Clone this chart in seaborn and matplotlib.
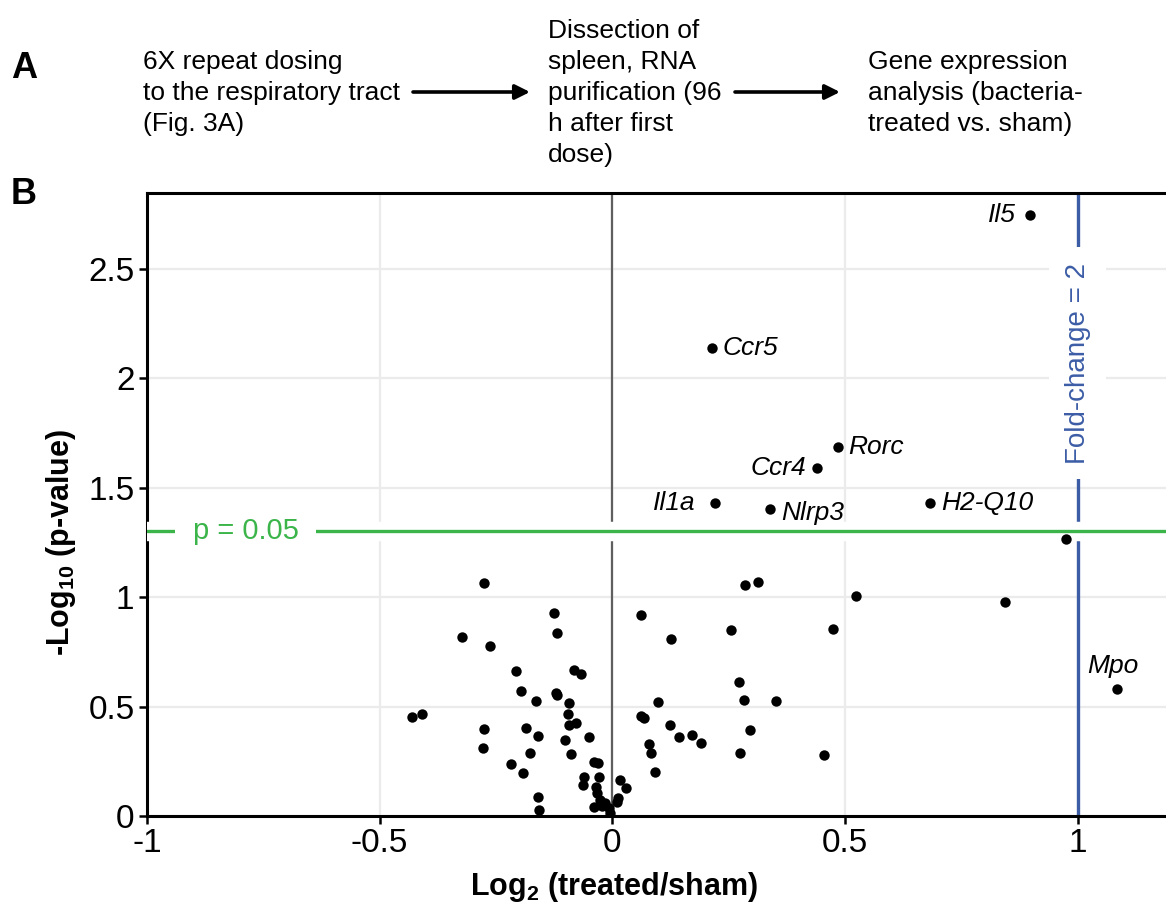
"""
Volcano plot of spleen gene expression after repeat dosing (panel A workflow + panel B volcano).
"""
import matplotlib
matplotlib.use('Agg')
import matplotlib.pyplot as plt
import matplotlib.patheffects as pe
import pandas as pd
import seaborn as sns

# labelled genes
GENES = ['Il5', 'Ccr5', 'Rorc', 'Ccr4', 'Il1a', 'Nlrp3', 'H2-Q10', 'Mpo']
GENE_LOG2FC = [0.897, 0.214, 0.484, 0.441, 0.221, 0.339, 0.683, 1.084]
GENE_NLOGP = [2.747, 2.139, 1.686, 1.590, 1.430, 1.403, 1.430, 0.579]

# unlabelled genes
OTHER_LOG2FC = [
    -0.275, -0.125, -0.118, -0.322, -0.262, -0.208, -0.083, -0.067, -0.197,
    -0.121, -0.119, -0.165, -0.094, -0.430, -0.410, -0.096, -0.079, -0.092,
    -0.275, -0.185, -0.159, -0.050, -0.101, -0.277, -0.177, -0.089, -0.217,
    -0.192, -0.040, -0.031, -0.160, -0.157, -0.061, -0.064, -0.029, -0.036,
    -0.033, -0.040, -0.026, -0.015, -0.008, -0.004, -0.022,
    0.061, 0.127, 0.099, 0.061, 0.069, 0.123, 0.016, 0.029, 0.012, 0.011,
    0.285, 0.314, 0.256, 0.272, 0.284, 0.351, 0.296, 0.143, 0.171, 0.191,
    0.079, 0.083, 0.274, 0.091, 0.524, 0.475, 0.455, 0.976, 0.843,
]
OTHER_NLOGP = [
    1.063, 0.926, 0.838, 0.818, 0.777, 0.664, 0.665, 0.650, 0.571,
    0.564, 0.552, 0.526, 0.518, 0.454, 0.468, 0.468, 0.425, 0.416,
    0.399, 0.402, 0.366, 0.362, 0.348, 0.313, 0.290, 0.283, 0.236,
    0.196, 0.248, 0.243, 0.087, 0.027, 0.177, 0.140, 0.178, 0.134,
    0.104, 0.043, 0.073, 0.058, 0.035, 0.012, 0.045,
    0.919, 0.811, 0.522, 0.459, 0.446, 0.418, 0.165, 0.126, 0.084, 0.062,
    1.056, 1.071, 0.850, 0.611, 0.528, 0.526, 0.393, 0.360, 0.370, 0.334,
    0.327, 0.286, 0.290, 0.203, 1.005, 0.853, 0.277, 1.264, 0.979,
]

P_CUTOFF = 1.301        # -log10(0.05)
FC_CUTOFF = 1.0         # log2(2)
X_TICKS = [-1, -0.5, 0, 0.5, 1]
Y_TICKS = [0, 0.5, 1, 1.5, 2, 2.5]

WORKFLOW = [
    '6X repeat dosing\nto the respiratory tract\n(Fig. 3A)',
    'Dissection of\nspleen, RNA\npurification (96\nh after first\ndose)',
    'Gene expression\nanalysis (bacteria-\ntreated vs. sham)',
]

# label placement (offset in points, alignment)
LABEL_POS = {
    'Il5': (-10, 0, 'right'),
    'Ccr5': (8, 0, 'left'),
    'Rorc': (8, 0, 'left'),
    'Ccr4': (-8, 0, 'right'),
    'Il1a': (-14, 0, 'right'),
    'Nlrp3': (8, -3, 'left'),
    'H2-Q10': (8, 0, 'left'),
    'Mpo': (-3, 17, 'center'),
}

GREEN = '#3bb54a'
BLUE = '#3c5da6'

sns.set_theme(style='white')
plt.rcParams['font.family'] = ['Liberation Sans', 'DejaVu Sans']
plt.rcParams['mathtext.fontset'] = 'custom'
plt.rcParams['mathtext.rm'] = 'Liberation Sans'
plt.rcParams['mathtext.bf'] = 'Liberation Sans:bold'
plt.rcParams['axes.unicode_minus'] = False
plt.rcParams['text.color'] = 'black'
plt.rcParams['axes.labelcolor'] = 'black'

W, H = 1166, 907
fig = plt.figure(figsize=(W / 100, H / 100), dpi=100)
ax = fig.add_axes([147 / W, 1 - 816 / H, (W - 147) / W, (816 - 193) / H])

df = pd.DataFrame({
    'log2fc': OTHER_LOG2FC + GENE_LOG2FC,
    'nlogp': OTHER_NLOGP + GENE_NLOGP,
})

ax.grid(True, color='#ebebeb', lw=1.6, zorder=0)
ax.axvline(0, color='#5f5f5f', lw=1.6, zorder=1)
ax.axvline(FC_CUTOFF, color=BLUE, lw=2.4, zorder=2)
ax.axhline(P_CUTOFF, color=GREEN, lw=2.4, zorder=3,
           path_effects=[pe.Stroke(linewidth=14, foreground='white'), pe.Normal()])

sns.scatterplot(data=df, x='log2fc', y='nlogp', color='black', s=56,
                linewidth=0, ax=ax, zorder=4)

for name, gx, gy in zip(GENES, GENE_LOG2FC, GENE_NLOGP):
    dx, dy, ha = LABEL_POS[name]
    ax.annotate(name, (gx, gy), xytext=(dx, dy), textcoords='offset points',
                ha=ha, va='center', fontsize=19, style='italic', zorder=5)

ax.text(-0.788, P_CUTOFF, 'p = 0.05', color=GREEN, fontsize=21,
        ha='center', va='center', zorder=5,
        bbox=dict(boxstyle='square,pad=0.6', fc='white', ec='none'))
ax.text(FC_CUTOFF, 2.07, 'Fold-change = 2', color=BLUE, fontsize=20,
        rotation=90, ha='center', va='center', zorder=5,
        bbox=dict(boxstyle='square,pad=0.55', fc='white', ec='none'))

ax.set_xlim(-1, 1.19)
ax.set_ylim(0, 2.847)
ax.set_xticks(X_TICKS)
ax.set_yticks(Y_TICKS)
ax.set_xticklabels([f'{v:g}' for v in X_TICKS])
ax.set_yticklabels([f'{v:g}' for v in Y_TICKS])
ax.tick_params(direction='out', length=6, width=1.8, labelsize=24,
               pad=3, colors='black', bottom=True, left=True)

for side in ['left', 'bottom', 'top']:
    ax.spines[side].set_color('black')
    ax.spines[side].set_linewidth(2.2)
ax.spines['right'].set_visible(False)

ax.set_xlabel(r'Log$_\mathbf{2}$ (treated/sham)', fontsize=22, fontweight='bold')
ax.set_ylabel(r'-Log$_\mathbf{10}$ (p-value)', fontsize=22, fontweight='bold')
ax.xaxis.set_label_coords((614 - 147) / (W - 147), -(870 - 816) / (816 - 193))
ax.yaxis.set_label_coords(-(147 - 78) / (W - 147), (816 - 543) / (816 - 193))

# panel A: workflow
fig.text(11 / W, 1 - 68 / H, 'A', fontsize=26, fontweight='bold', va='center')
fig.text(11 / W, 1 - 195 / H, 'B', fontsize=26, fontweight='bold', va='center')

y_mid = 1 - 93 / H
for txt, x0 in zip(WORKFLOW, [143, 548, 868]):
    fig.text(x0 / W, y_mid, txt, fontsize=19, ha='left', va='center',
             linespacing=1.38)

for x0, x1 in [(413, 530), (735, 840)]:
    fig.patches.append(matplotlib.patches.FancyArrowPatch(
        (x0 / W, 1 - 92 / H), (x1 / W, 1 - 92 / H),
        transform=fig.transFigure, arrowstyle='-|>', mutation_scale=22,
        lw=2.6, color='black', shrinkA=0, shrinkB=0))

plt.savefig('out.png', dpi=100)
plt.close()
